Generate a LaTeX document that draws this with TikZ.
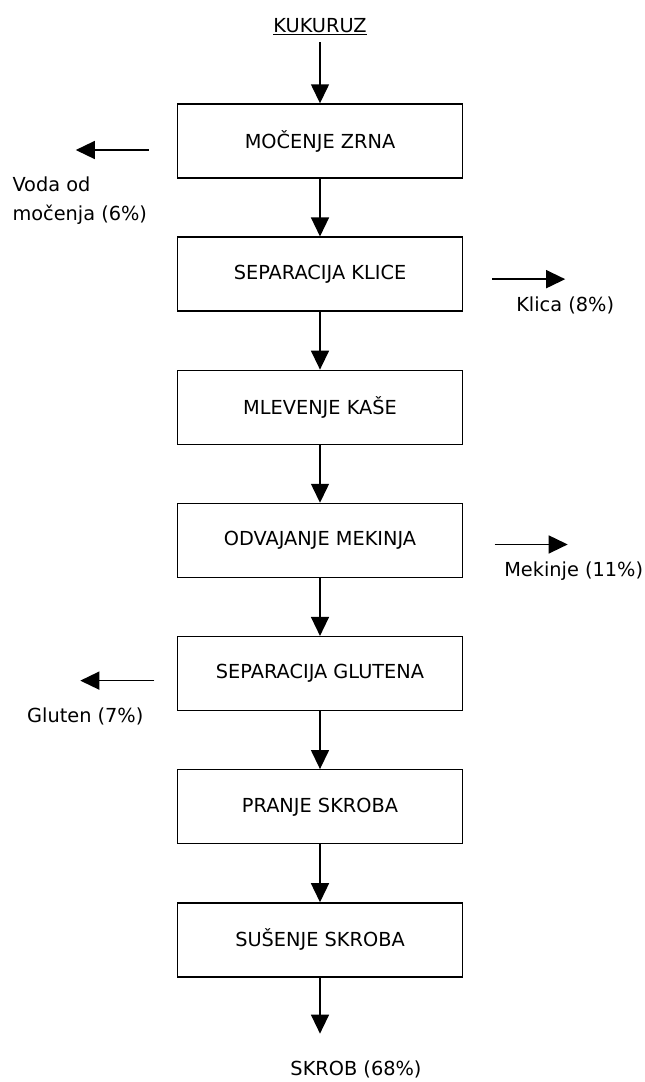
\documentclass[tikz,border=0pt]{standalone}
\usepackage{fontspec}
\setmainfont{DejaVu Sans}
\usepackage{tikz}
\usetikzlibrary{positioning, arrows.meta}

\begin{document}
\begin{tikzpicture}[box/.style={draw, line width=0.8pt, minimum width=5.7cm, minimum height=1.48cm, font=\fontsize{11}{16.5}\selectfont}, lbl/.style={font=\fontsize{11}{16.5}\selectfont}, flow/.style={-{Triangle[length=0.38cm,width=0.36cm]}, line width=0.8pt}]
    \useasboundingbox (0,0) rectangle (12.9,-21.64);

    \node[lbl, anchor=base] (kuk) at (6.4,-0.64) {\underline{KUKURUZ}};
    \node[box] (b1) at (6.4,-2.82) {MOČENJE ZRNA};
    \node[box, below=1.155cm of b1] (b2) {SEPARACIJA KLICE};
    \node[box, below=1.155cm of b2] (b3) {MLEVENJE KAŠE};
    \node[box, below=1.155cm of b3] (b4) {ODVAJANJE MEKINJA};
    \node[box, below=1.155cm of b4] (b5) {SEPARACIJA GLUTENA};
    \node[box, below=1.155cm of b5] (b6) {PRANJE SKROBA};
    \node[box, below=1.155cm of b6] (b7) {SUŠENJE SKROBA};
    \coordinate[below=1.12cm of b7.south] (b7end);

    \path[flow]
        (kuk) edge (b1)
        (b1) edge (b2)
        (b2) edge (b3)
        (b3) edge (b4)
        (b4) edge (b5)
        (b5) edge (b6)
        (b6) edge (b7)
        (b7) edge (b7end)
        ;

    % side streams
    \coordinate[below left=0.18cm and 0.56cm of b1.west] (vodaS);
    \coordinate[left=1.46cm of vodaS] (vodaE);
    \node[lbl, align=left, anchor=west] (voda) at ([xshift=-1.39cm, yshift=-1.02cm]vodaE) {Voda od\\močenja (6\%)};

    \coordinate[below right=0.1cm and 0.58cm of b2.east] (klicaS);
    \coordinate[right=1.46cm of klicaS] (klicaE);
    \node[lbl] (klica) at ([yshift=-0.52cm]klicaE) {Klica (8\%)};

    \coordinate[below right=0.08cm and 0.63cm of b4.east] (mekS);
    \coordinate[right=1.46cm of mekS] (mekE);
    \node[lbl] (mek) at ([xshift=0.12cm, yshift=-0.54cm]mekE) {Mekinje (11\%)};

    \coordinate[below left=0.14cm and 0.45cm of b5.west] (glutS);
    \coordinate[left=1.48cm of glutS] (glutE);
    \node[lbl] (glut) at ([xshift=0.1cm, yshift=-0.72cm]glutE) {Gluten (7\%)};

    \path[flow]
        (vodaS) edge (vodaE)
        (klicaS) edge (klicaE)
        (mekS) edge (mekE)
        (glutS) edge (glutE)
        ;

    \node[lbl] (skrob) at ([xshift=0.72cm, yshift=-0.72cm]b7end) {SKROB (68\%)};
\end{tikzpicture}
\end{document}
